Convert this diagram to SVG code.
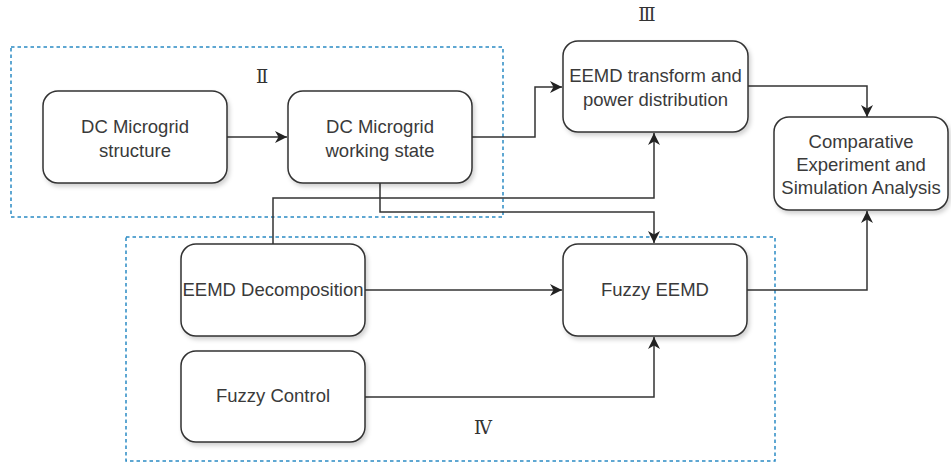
<svg xmlns="http://www.w3.org/2000/svg" width="951" height="466" viewBox="0 0 951 466">
<defs>
<style>
.box{fill:#fff;stroke:#333;stroke-width:1.5;filter:url(#sh)}
.lbl{font-family:"Liberation Sans",Arial,sans-serif;font-size:18.5px;fill:#3a3a3a;text-anchor:middle}
.rn{font-family:"Liberation Serif","DejaVu Serif",serif;font-size:18px;fill:#333;text-anchor:middle}
.grp{fill:none;stroke:#2a8ac4;stroke-width:1.5;stroke-dasharray:3.5 3}
.con{fill:none;stroke:#333;stroke-width:1.5;marker-end:url(#ah)}
</style>
<filter id="sh" x="-10%" y="-10%" width="125%" height="130%">
<feDropShadow dx="2" dy="3" stdDeviation="2" flood-color="#000" flood-opacity="0.18"/>
</filter>
<marker id="ah" markerWidth="14" markerHeight="12" refX="12" refY="6" orient="auto" markerUnits="userSpaceOnUse">
<path d="M0,0 L12,6 L0,12 L3.5,6 Z" fill="#222"/>
</marker>
</defs>
<rect width="951" height="466" fill="#fff"/>
<g id="groups">
<rect class="grp" x="11" y="47" width="492" height="170"/>
<rect class="grp" x="126" y="237" width="649" height="224"/>
<text class="rn" x="262" y="83">Ⅱ</text>
<text class="rn" x="647" y="21">Ⅲ</text>
<text class="rn" x="483" y="434">Ⅳ</text>
</g>
<g id="connectors">
<path class="con" d="M227,137 H287"/>
<path class="con" d="M472,137 H535 V87 H562"/>
<path class="con" d="M748,86 H867 V117"/>
<path class="con" d="M273,244 V198 H654 V133"/>
<path class="con" d="M380,183 V212 H654 V243"/>
<path class="con" d="M365,290 H562"/>
<path class="con" d="M365,397 H654 V337"/>
<path class="con" d="M747,290 H867 V211"/>
</g>
<g id="n1"><rect class="box" x="43" y="91" width="184" height="92" rx="15"/>
<text class="lbl" x="135" y="133">DC Microgrid</text><text class="lbl" x="135" y="157">structure</text></g>
<g id="n2"><rect class="box" x="288" y="91" width="184" height="92" rx="15"/>
<text class="lbl" x="380" y="133">DC Microgrid</text><text class="lbl" x="380" y="157">working state</text></g>
<g id="n3"><rect class="box" x="563" y="41" width="185" height="91" rx="15"/>
<text class="lbl" x="655.5" y="82">EEMD transform and</text><text class="lbl" x="655.5" y="106">power distribution</text></g>
<g id="n4"><rect class="box" x="774" y="117" width="174" height="93" rx="15"/>
<text class="lbl" x="861" y="148">Comparative</text><text class="lbl" x="861" y="171">Experiment and</text><text class="lbl" x="861" y="194">Simulation Analysis</text></g>
<g id="n5"><rect class="box" x="181" y="244" width="184" height="92" rx="15"/>
<text class="lbl" x="273" y="296">EEMD Decomposition</text></g>
<g id="n6"><rect class="box" x="181" y="351" width="184" height="91" rx="15"/>
<text class="lbl" x="273" y="402">Fuzzy Control</text></g>
<g id="n7"><rect class="box" x="563" y="244" width="184" height="92" rx="15"/>
<text class="lbl" x="655" y="296">Fuzzy EEMD</text></g>
</svg>
